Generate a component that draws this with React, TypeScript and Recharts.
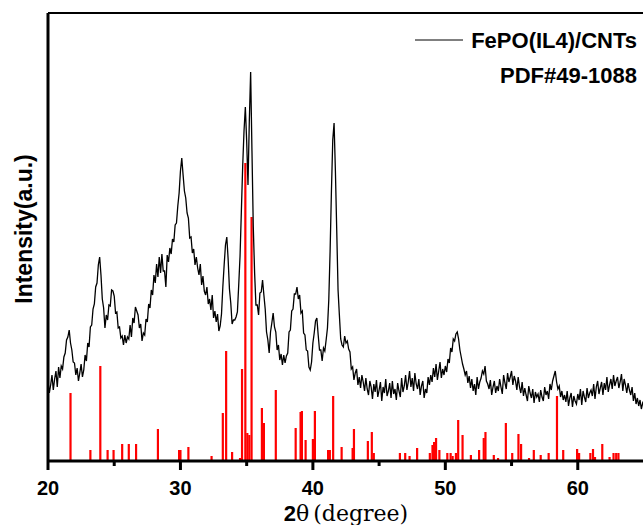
import React from 'react';
import { ComposedChart, Line, XAxis, YAxis, ReferenceLine, Label } from 'recharts';

// FePO(IL4)/CNTs XRD pattern, 2θ from 20° to 65° in 0.1° steps (intensity, a.u.)
const ANGLE_START = 20;
const ANGLE_STEP = 0.1;
const intensity: number[] = [
  // 20.x
  80, 68, 76, 86, 71, 82, 90, 74, 94, 83,
  // 21.x
  95, 92, 104, 108, 121, 124, 131, 118, 111, 99,
  // 22.x
  98, 86, 93, 80, 88, 97, 84, 91, 106, 100,
  // 23.x
  118, 114, 134, 136, 152, 157, 174, 178, 196, 204,
  // 24.x
  186, 162, 153, 133, 146, 141, 156, 155, 171, 170,
  // 25.x
  165, 148, 149, 133, 134, 123, 125, 116, 126, 118,
  // 26.x
  124, 122, 136, 124, 143, 138, 154, 150, 146, 133,
  // 27.x
  137, 120, 128, 126, 142, 139, 157, 153, 171, 166,
  // 28.x
  186, 178, 197, 184, 204, 188, 207, 190, 190, 174,
  // 29.x
  206, 199, 213, 207, 222, 219, 236, 238, 255, 268,
  // 30.x
  290, 303, 286, 270, 263, 248, 243, 223, 224, 208,
  // 31.x
  212, 196, 204, 193, 186, 197, 176, 185, 170, 166,
  // 32.x
  174, 157, 162, 151, 166, 143, 150, 139, 147, 130,
  // 33.x
  135, 147, 174, 196, 216, 224, 202, 172, 158, 137,
  // 34.x
  141, 141, 144, 149, 176, 205, 250, 295, 330, 354,
  // 35.x
  320, 276, 340, 389, 310, 234, 188, 156, 156, 146,
  // 36.x
  168, 169, 181, 166, 152, 129, 121, 108, 129, 138,
  // 37.x
  148, 134, 129, 111, 116, 101, 107, 96, 106, 98,
  // 38.x
  105, 108, 129, 131, 150, 152, 167, 167, 174, 162,
  // 39.x
  166, 148, 150, 128, 126, 111, 110, 94, 91, 99,
  // 40.x
  118, 128, 140, 143, 126, 111, 111, 100, 113, 110,
  // 41.x
  121, 133, 161, 210, 270, 321, 338, 290, 231, 171,
  // 42.x
  146, 122, 116, 114, 125, 118, 120, 112, 109, 92,
  // 43.x
  94, 81, 88, 92, 76, 84, 73, 86, 79, 70,
  // 44.x
  83, 72, 66, 80, 74, 62, 77, 69, 81, 64,
  // 45.x
  71, 79, 60, 74, 68, 82, 65, 70, 78, 63,
  // 46.x
  80, 67, 72, 61, 78, 70, 64, 83, 69, 75,
  // 47.x
  86, 71, 79, 90, 74, 83, 70, 88, 77, 72,
  // 48.x
  82, 66, 75, 80, 63, 72, 68, 84, 76, 86,
  // 49.x
  79, 93, 84, 97, 81, 90, 99, 83, 92, 86,
  // 50.x
  95, 89, 102, 98, 113, 109, 122, 120, 127, 129,
  // 51.x
  122, 111, 104, 97, 92, 86, 90, 78, 85, 73,
  // 52.x
  82, 70, 77, 66, 84, 72, 79, 83, 90, 87,
  // 53.x
  95, 80, 77, 72, 81, 66, 74, 80, 68, 75,
  // 54.x
  70, 82, 74, 67, 86, 78, 72, 88, 79, 84,
  // 55.x
  90, 76, 85, 80, 71, 84, 74, 68, 79, 65,
  // 56.x
  73, 66, 60, 75, 68, 63, 72, 58, 69, 64,
  // 57.x
  67, 59, 71, 64, 60, 74, 66, 70, 62, 77,
  // 58.x
  71, 80, 85, 90, 79, 72, 75, 64, 70, 61,
  // 59.x
  66, 59, 70, 55, 63, 68, 54, 65, 60, 57,
  // 60.x
  67, 61, 72, 56, 70, 64, 59, 73, 63, 68,
  // 61.x
  71, 65, 77, 62, 74, 80, 67, 73, 79, 66,
  // 62.x
  78, 71, 84, 69, 76, 82, 72, 86, 75, 80,
  // 63.x
  84, 73, 79, 87, 70, 82, 76, 68, 78, 71,
  // 64.x
  66, 74, 60, 68, 57, 63, 55, 61, 52, 58,
  // 65.0
  55,
];

// PDF#49-1088 reference lines
const pdfAngles: number[] = [
  21.7, 23.2, 23.95, 24.5, 24.95, 25.6, 26.1, 26.65, 28.3, 29.9, 30.0, 30.6,
  32.35, 33.2, 33.45, 33.9, 34.5, 34.65, 34.9, 35.05, 35.2, 35.37, 36.15, 36.3,
  37.2, 38.7, 39.07, 39.17, 39.45, 40.0, 40.15, 41.15, 41.28, 41.53, 42.17, 43.0,
  43.1, 44.15, 44.45, 44.6, 46.57, 46.97, 47.3, 47.87, 48.83, 49.03, 49.15, 49.3,
  49.55, 50.15, 50.4, 50.55, 50.8, 50.97, 51.3, 51.93, 52.55, 52.9, 53.03, 53.66,
  53.98, 54.57, 55.05, 55.52, 55.72, 56.32, 56.68, 57.2, 57.8, 58.43, 58.9, 59.95,
  60.1, 60.95, 61.15, 61.3, 61.85, 62.4, 62.7, 62.9, 63.07,
];
const pdfHeights: number[] = [
  68, 11, 95, 11, 11, 17, 17, 17, 32, 11, 11, 14,
  5, 48, 110, 9, 3, 92, 298, 28, 26, 244, 53, 38,
  71, 33, 49, 50, 21, 22, 50, 11, 11, 65, 14, 13,
  32, 20, 29, 8, 8, 8, 5, 13, 8, 16, 19, 23,
  11, 8, 8, 5, 8, 41, 26, 6, 11, 23, 29, 6,
  3, 38, 8, 27, 17, 3, 11, 6, 8, 65, 11, 12,
  8, 8, 12, 4, 17, 4, 8, 8, 8,
];

const xTicks = [20, 25, 30, 35, 40, 45, 50, 55, 60];
const xDomain: [number, number] = [20, 65];
const yDomain: [number, number] = [0, 448];
const seriesName = 'FePO(IL4)/CNTs';
const pdfName = 'PDF#49-1088';

const data = intensity.map((v, i) => ({
  angle: Math.round((ANGLE_START + i * ANGLE_STEP) * 10) / 10,
  value: v,
}));
const sticks = pdfAngles.map((a, i) => ({ angle: a, height: pdfHeights[i] }));

const SANS = '"Liberation Sans", Arial, sans-serif';

const XTick = (props: any) => {
  const { x, y, payload } = props;
  const major = payload.value % 10 === 0;
  return (
    <g>
      <line x1={x} x2={x} y1={y} y2={y + (major ? 9 : 5)} stroke="#000" strokeWidth={3} />
      {major && (
        <text x={x} y={y + 34} textAnchor="middle" fontFamily={SANS} fontWeight="bold" fontSize={20} fill="#000">
          {payload.value}
        </text>
      )}
    </g>
  );
};

// x-axis title plus the legend (drawn inside the chart's SVG)
const XLabel = (props: any) => {
  const vb = props.viewBox || { x: 48, y: 461, width: 596, height: 64 };
  const cx = vb.x + vb.width / 2;
  const right = vb.x + vb.width - 7;
  return (
    <g>
      <text x={cx} y={vb.y + 60} textAnchor="middle" fontSize={22} fill="#000">
        <tspan fontFamily={SANS} fontWeight="bold">2</tspan>
        <tspan fontFamily='"DejaVu Serif", serif'>θ</tspan>
        <tspan fontFamily='"DejaVu Serif", serif' dx={4}>(degree)</tspan>
      </text>
      <line x1={right - 222} x2={right - 174} y1={vb.y - 421} y2={vb.y - 421} stroke="#000" strokeWidth={1} />
      <text x={right} y={vb.y - 413} textAnchor="end" fontFamily={SANS} fontWeight="bold" fontSize={22} fill="#000">
        {seriesName}
      </text>
      <text x={right} y={vb.y - 378} textAnchor="end" fontFamily={SANS} fontWeight="bold" fontSize={22} fill="#000">
        {pdfName}
      </text>
    </g>
  );
};

const YLabel = (props: any) => {
  const vb = props.viewBox || { x: 0, y: 13, width: 48, height: 448 };
  const cy = vb.y + vb.height / 2 - 8;
  const bx = vb.x + 32;
  return (
    <text
      x={bx}
      y={cy}
      transform={`rotate(-90 ${bx} ${cy})`}
      textAnchor="middle"
      fontFamily={SANS}
      fontWeight="bold"
      fontSize={23}
      fill="#000"
    >
      Intensity(a.u.)
    </text>
  );
};

export default function App() {
  return (
    <div style={{ position: 'absolute', left: 0, top: 0, width: 643, height: 525, overflow: 'hidden', background: '#fff' }}>
      <ComposedChart
        width={660}
        height={525}
        data={data}
        margin={{ top: 13, right: 16, bottom: 0, left: 0 }}
      >
        <XAxis
          dataKey="angle"
          type="number"
          domain={xDomain}
          ticks={xTicks}
          interval={0}
          height={64}
          tickSize={0}
          tickMargin={0}
          tickLine={false}
          tick={<XTick />}
          axisLine={{ stroke: '#000', strokeWidth: 3 }}
        >
          <Label content={<XLabel />} />
        </XAxis>
        <YAxis
          type="number"
          domain={yDomain}
          width={48}
          tick={false}
          tickLine={false}
          axisLine={{ stroke: '#000', strokeWidth: 3 }}
        >
          <Label content={<YLabel />} />
        </YAxis>
        <ReferenceLine y={yDomain[1]} stroke="#000" strokeWidth={2} ifOverflow="visible" />
        {sticks.map((s) => (
          <ReferenceLine
            key={s.angle}
            segment={[
              { x: s.angle, y: 0 },
              { x: s.angle, y: s.height },
            ]}
            stroke="#ff0000"
            strokeWidth={2.2}
            ifOverflow="visible"
          />
        ))}
        <Line
          dataKey="value"
          name={seriesName}
          type="linear"
          dot={false}
          activeDot={false}
          stroke="#000"
          strokeWidth={1.3}
          isAnimationActive={false}
        />
      </ComposedChart>
    </div>
  );
}
